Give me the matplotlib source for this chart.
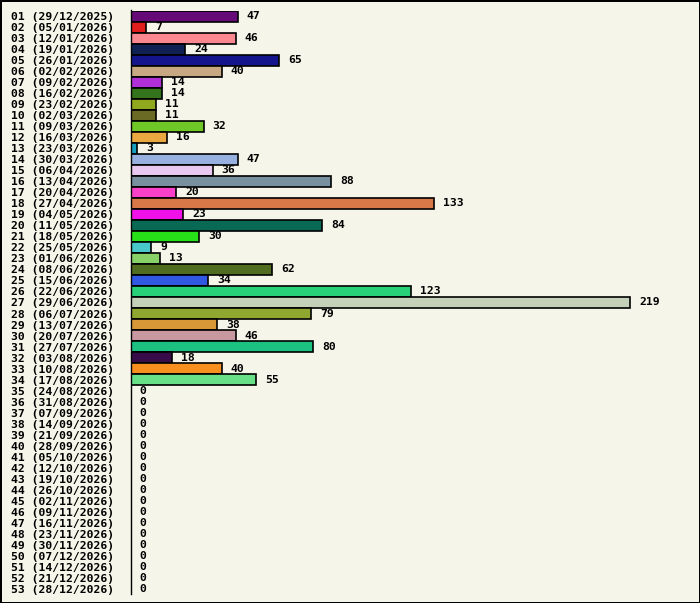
import matplotlib
matplotlib.use("Agg")
import matplotlib.pyplot as plt

# Weekly counts, one bar per week
WEEKS = [
    "01 (29/12/2025)", "02 (05/01/2026)", "03 (12/01/2026)", "04 (19/01/2026)",
    "05 (26/01/2026)", "06 (02/02/2026)", "07 (09/02/2026)", "08 (16/02/2026)",
    "09 (23/02/2026)", "10 (02/03/2026)", "11 (09/03/2026)", "12 (16/03/2026)",
    "13 (23/03/2026)", "14 (30/03/2026)", "15 (06/04/2026)", "16 (13/04/2026)",
    "17 (20/04/2026)", "18 (27/04/2026)", "19 (04/05/2026)", "20 (11/05/2026)",
    "21 (18/05/2026)", "22 (25/05/2026)", "23 (01/06/2026)", "24 (08/06/2026)",
    "25 (15/06/2026)", "26 (22/06/2026)", "27 (29/06/2026)", "28 (06/07/2026)",
    "29 (13/07/2026)", "30 (20/07/2026)", "31 (27/07/2026)", "32 (03/08/2026)",
    "33 (10/08/2026)", "34 (17/08/2026)", "35 (24/08/2026)", "36 (31/08/2026)",
    "37 (07/09/2026)", "38 (14/09/2026)", "39 (21/09/2026)", "40 (28/09/2026)",
    "41 (05/10/2026)", "42 (12/10/2026)", "43 (19/10/2026)", "44 (26/10/2026)",
    "45 (02/11/2026)", "46 (09/11/2026)", "47 (16/11/2026)", "48 (23/11/2026)",
    "49 (30/11/2026)", "50 (07/12/2026)", "51 (14/12/2026)", "52 (21/12/2026)",
    "53 (28/12/2026)",
]
COUNTS = [
    47, 7, 46, 24, 65, 40, 14, 14, 11, 11, 32, 16, 3, 47, 36, 88, 20, 133,
    23, 84, 30, 9, 13, 62, 34, 123, 219, 79, 38, 46, 80, 18, 40, 55,
    0, 0, 0, 0, 0, 0, 0, 0, 0, 0, 0, 0, 0, 0, 0, 0, 0, 0, 0,
]
COLORS = [
    "#660a78", "#e01e1e", "#fa8890", "#0f2052", "#14148c", "#c8a882",
    "#b030d8", "#34741c", "#90a81e", "#6a6a24", "#70c828", "#eaa840",
    "#18a0c0", "#98b0e0", "#e8c8f0", "#7890a0", "#f840c8", "#d87848",
    "#f010e8", "#086a54", "#28e018", "#48c8c8", "#88d068", "#506c20",
    "#3058e0", "#28d078", "#c4d0b8", "#90a830", "#d89838", "#c898a0",
    "#1cc080", "#380c48", "#f89020", "#68e088",
]
BG = "#f5f5e9"

W, H = 700, 603
fig = plt.figure(figsize=(W / 100, H / 100), dpi=100)
fig.patch.set_facecolor(BG)
fig.patch.set_edgecolor("black")
fig.patch.set_linewidth(2)

# axes in pixel terms: left axis line at x=130.5, rows from y=10.5 to 594.5
ax_left, ax_right = 130.5, 690
ax_top, ax_bot = 10.5, 594.5
ax = fig.add_axes([ax_left / W, 1 - ax_bot / H, (ax_right - ax_left) / W, (ax_bot - ax_top) / H])
ax.set_facecolor(BG)

px_per_unit = 2.283
ax.set_xlim(0, (ax_right - ax_left) / px_per_unit)
ax.set_ylim(len(WEEKS) - 0.5, -0.5)

ypos = list(range(len(WEEKS)))
colors = [COLORS[i] if i < len(COLORS) else "none" for i in ypos]
edges = ["black" if COUNTS[i] > 0 else "none" for i in ypos]
ax.barh(ypos, COUNTS, height=1.0, color=colors, edgecolor=edges, linewidth=1.2)

font = dict(family="DejaVu Sans Mono", weight="bold", size=8.2)
for y, v in zip(ypos, COUNTS):
    ax.annotate(str(v), (v, y), xytext=(6.5, 0), textcoords="offset points",
                ha="left", va="center", **font)

ax.set_yticks(ypos)
ax.set_yticklabels(WEEKS, **font)
ax.tick_params(axis="y", length=0, pad=12)
ax.set_xticks([])
for side in ["top", "right", "bottom"]:
    ax.spines[side].set_visible(False)
ax.spines["left"].set_linewidth(1)

fig.savefig("out.png", dpi=100, facecolor=BG, edgecolor="black")
